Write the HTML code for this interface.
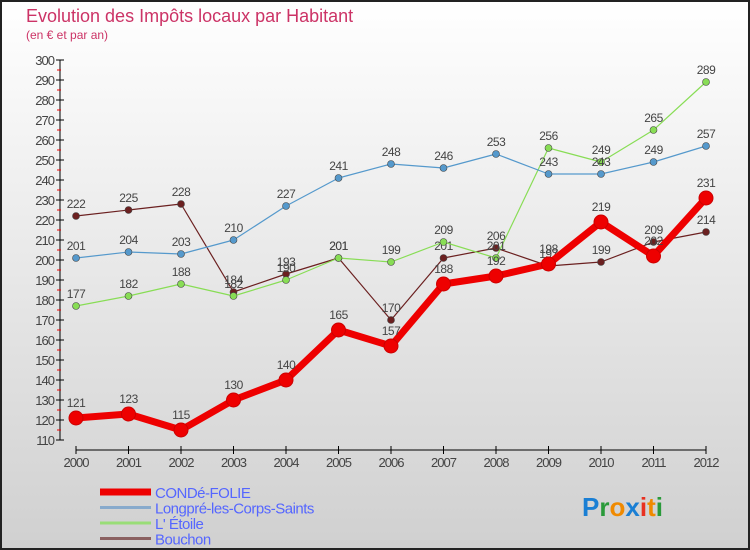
<!DOCTYPE html>
<html><head><meta charset="utf-8"><style>
body{margin:0;}
svg{display:block;font-family:"Liberation Sans",sans-serif;}
</style></head><body>
<svg id="c" width="750" height="550" viewBox="0 0 750 550">
<defs><linearGradient id="bg" x1="0" y1="0" x2="0" y2="1"><stop offset="0" stop-color="#ffffff"/><stop offset="1" stop-color="#d0d0d0"/></linearGradient></defs>
<rect x="1" y="1" width="748" height="548" fill="url(#bg)" stroke="#222" stroke-width="2"/>
<text x="26" y="22" font-size="18" fill="#cc3366">Evolution des Impôts locaux par Habitant</text>
<text x="26" y="39" font-size="12" fill="#cc3366">(en € et par an)</text>
<g id="axes"></g><g id="series"></g><g id="legend"></g>
<text x="582" y="516" font-size="26" font-weight="bold"><tspan fill="#1a7fd4">P</tspan><tspan fill="#2a9a3a">r</tspan><tspan fill="#f08a00">o</tspan><tspan fill="#1a7fd4">x</tspan><tspan fill="#e83020">i</tspan><tspan fill="#f08a00">t</tspan><tspan fill="#2a9a3a">i</tspan></text>
</svg>
<script>
const years=[2000,2001,2002,2003,2004,2005,2006,2007,2008,2009,2010,2011,2012];
const conde=[121,123,115,130,140,165,157,188,192,198,219,202,231];
const longpre=[201,204,203,210,227,241,248,246,253,243,243,249,257];
const etoile=[177,182,188,182,190,201,199,209,201,256,249,265,289];
const bouchon=[222,225,228,184,193,201,170,201,206,197,199,209,214];
const yTicks=[110,120,130,140,150,160,170,180,190,200,210,220,230,240,250,260,270,280,290,300];
const NS="http://www.w3.org/2000/svg";
function X(i){return 76+i*52.5;}
function Y(v){return 60+(300-v)*2;}
function mk(tag,attrs,parent,text){const e=document.createElementNS(NS,tag);for(const k in attrs)e.setAttribute(k,attrs[k]);if(text!==undefined)e.textContent=text;parent.appendChild(e);return e;}
const ax=document.getElementById('axes');
let l=mk('line',{x1:60,y1:Y(300),x2:60,y2:Y(110),stroke:'#000'},ax);


yTicks.forEach(v=>{
 mk('line',{x1:56,y1:Y(v),x2:64,y2:Y(v),stroke:'#000'},ax);
 if(v<300)mk('line',{x1:57,y1:Y(v+5),x2:61,y2:Y(v+5),stroke:'#e00'},ax);
 const t=mk('text',{x:54,y:Y(v)+5,'font-size':13,fill:'#444','text-anchor':'end','letter-spacing':'-1'},ax,String(v));
 
 
});
l=mk('line',{x1:X(0),y1:450,x2:X(12),y2:450,stroke:'#000'},ax);


years.forEach((y,i)=>{
 mk('line',{x1:X(i),y1:446,x2:X(i),y2:454,stroke:'#000'},ax);
 const t=mk('text',{x:X(i),y:467,'font-size':13,fill:'#444','text-anchor':'middle','letter-spacing':'-1'},ax,String(y));
 
 
});
const sg=document.getElementById('series');
const series=[
 {name:'bouchon',d:bouchon,c:'#6b2020',w:1.2,r:3.5},
 {name:'etoile',d:etoile,c:'#88dd55',w:1.2,r:3.5},
 {name:'longpre',d:longpre,c:'#5599cc',w:1.2,r:3.5},
 {name:'conde',d:conde,c:'#ee0000',w:7,r:7}
];
series.forEach(s=>{
 const g=mk('g',{},sg);
 
 
 const p=mk('polyline',{points:s.d.map((v,i)=>X(i)+','+Y(v)).join(' '),fill:'none',stroke:s.c,'stroke-width':s.w,'stroke-linejoin':'round'},g);
 
 
 s.d.forEach((v,i)=>{
  const c=mk('circle',{cx:X(i),cy:Y(v),r:s.r,fill:s.c,stroke:s.w>2?'#cc0000':'#444','stroke-width':s.w>2?1:0.6},g);
  
  
  const t=mk('text',{x:X(i),y:Y(v)-(s.w>2?11:8),'font-size':12,fill:'#444','text-anchor':'middle','letter-spacing':'-0.5'},g,String(v));
  
  
 });
});
const lg=document.getElementById('legend');
const items=[['CONDé-FOLIE','#ee0000',7],['Longpré-les-Corps-Saints','#88aacc',3],["L' Étoile",'#99dd77',3],['Bouchon','#8a6060',3]];
items.forEach((it,i)=>{
 const y=492+i*15.5;
 const g=mk('g',{},lg);
 
 
 mk('line',{x1:100,y1:y,x2:151,y2:y,stroke:it[1],'stroke-width':it[2]},g);
 mk('text',{x:155,y:y+6,'font-size':15,fill:'#5566ff','letter-spacing':'-0.5'},g,it[0]);
});
</script>
</body></html>
